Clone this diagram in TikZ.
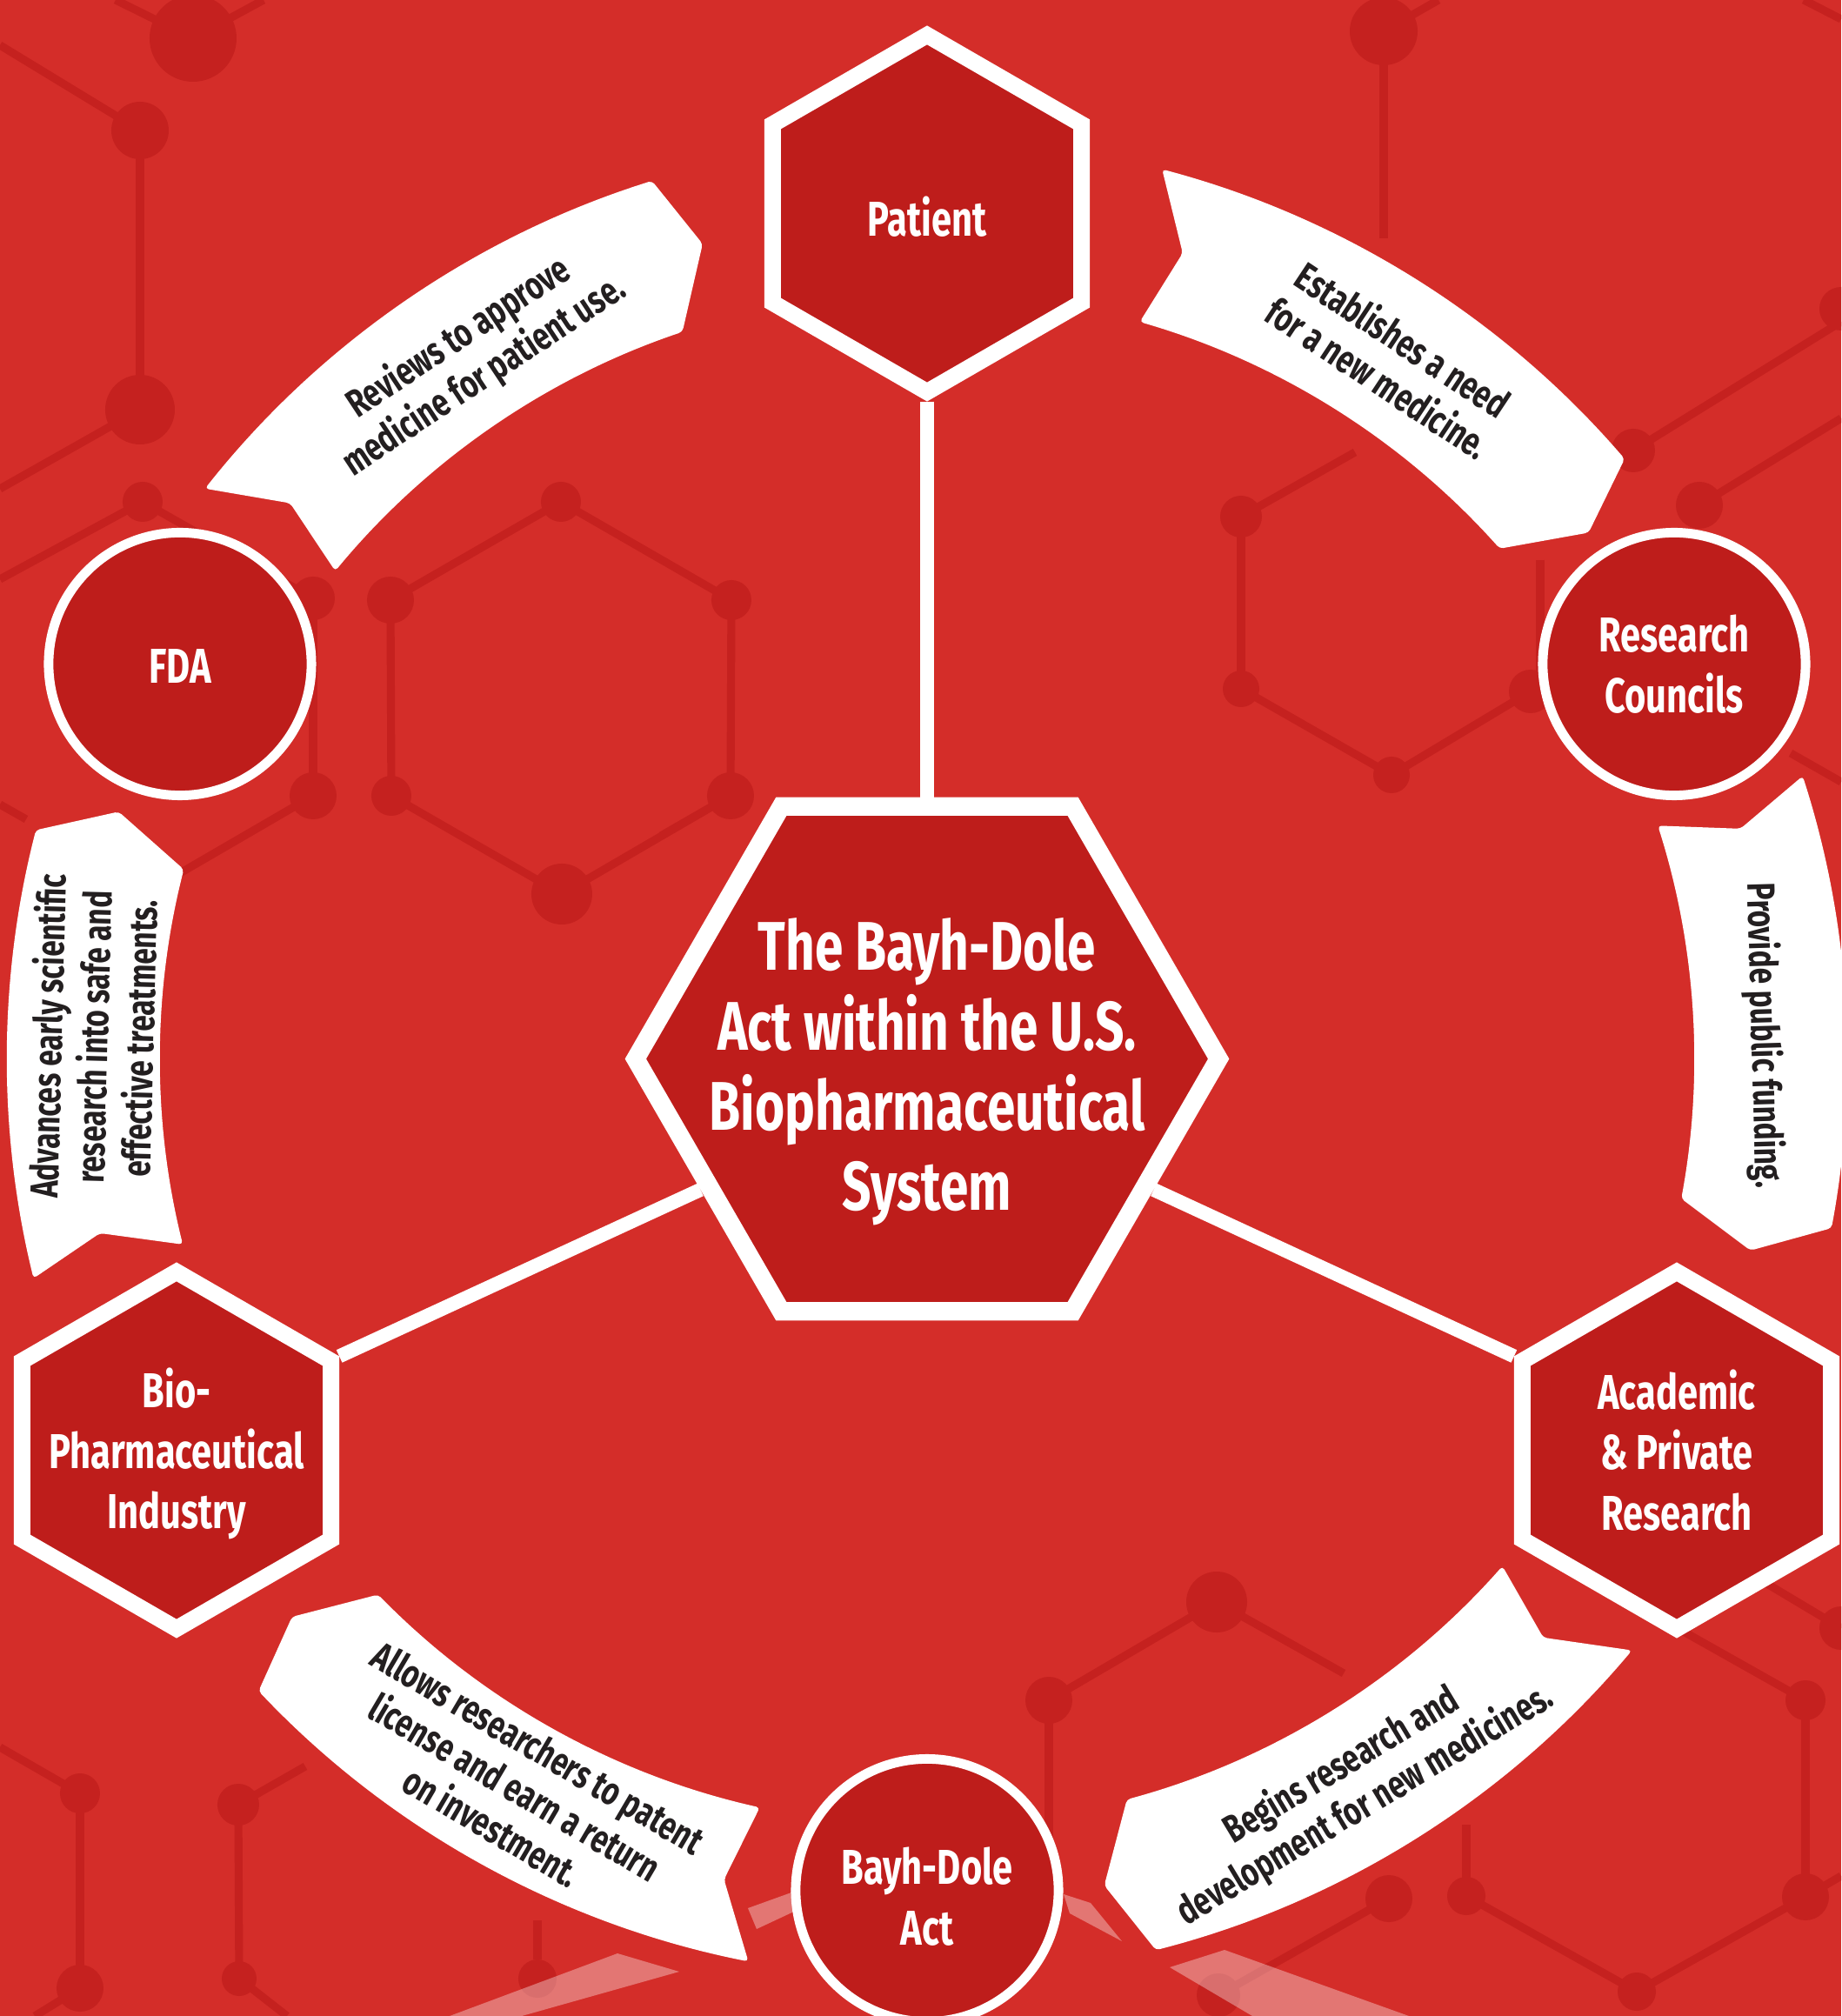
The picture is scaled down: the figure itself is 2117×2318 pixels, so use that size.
\documentclass[tikz,border=0pt]{standalone}
\usepackage{fontspec}
\setmainfont{Fira Sans}[FakeStretch=0.74]
\usetikzlibrary{shapes.geometric}

\definecolor{bgred}{RGB}{212,45,41}
\definecolor{molred}{RGB}{197,33,31}
\definecolor{hexred}{RGB}{190,29,27}
\definecolor{ink}{RGB}{35,31,32}

\newcommand{\atom}[3]{ \fill[molred] ( #1 , #2 ) circle ( #3 );}
\newcommand{\bond}[4]{ \draw[molred, line width=2.6pt] ( #1 , #2 ) -- ( #3 , #4 );}
\newcommand{\glow}[8]{ \fill[white, opacity=0.35] ( #1 , #2 ) -- ( #3 , #4 ) -- ( #5 , #6 ) -- ( #7 , #8 ) -- cycle;}
\newcommand{\flag}[6]{ \fill[white, rounded corners=1.2pt] (#1:1058) arc[start angle=#1, end angle=#4, radius=1058]
    -- (#5:972) -- (#6:882) arc[start angle=#6, end angle=#3, radius=882] -- (#2:972) -- cycle;}

\begin{document}
\begin{tikzpicture}[x=0.01cm, y=0.01cm,
    hexnode/.style={regular polygon, regular polygon sides=6, shape border rotate=30, draw=white, fill=hexred,
        line width=5.4pt, minimum size=4.1cm, inner sep=0pt},
    hexcore/.style={regular polygon, regular polygon sides=6, draw=white, fill=hexred,
        line width=6pt, minimum size=6.7cm, inner sep=0pt},
    ringnode/.style={circle, draw=white, fill=hexred, line width=3.1pt, minimum size=3.02cm, inner sep=0pt},
    nodetext/.style={text=white, align=center, inner sep=0pt, font=\bfseries\fontsize{16}{19.8}\selectfont},
    coretext/.style={text=white, align=center, inner sep=0pt, font=\bfseries\fontsize{22.5}{26.2}\selectfont},
    flagtext/.style={text=ink, align=center, inner sep=0pt, font=\bfseries\fontsize{12.8}{15}\selectfont},
    link/.style={white, line width=4.55pt}]

        % sheet
        \useasboundingbox (-1066,-1100.5) rectangle (1051,1217.5);
        \clip (-1066,-1100.5) rectangle (1051,1217.5);
        \fill[bgred] (-1066,-1100.5) rectangle (1051,1217.5);

        % molecules in the back (pixels of the sheet)
        \begin{scope}[shift={(-1066,1217.5)}, yscale=-1]
        % upper left
        \bond{222}{44}{133}{0}
        \bond{222}{44}{303}{0}
        \bond{0}{52}{161}{150}
        \bond{161}{150}{161}{471}
        \bond{161}{471}{0}{562}
        \bond{164}{577}{0}{666}
        \bond{164}{577}{360}{688}
        \bond{360}{688}{360}{915}
        \bond{360}{915}{200}{1008}
        \bond{0}{925}{30}{942}
        \atom{222}{44}{50}
        \atom{161}{150}{33}
        \atom{161}{471}{40}
        \atom{164}{577}{23}
        \atom{360}{688}{25}
        \atom{360}{915}{27}
        % ring left
        \bond{645}{577}{449}{690}
        \bond{645}{577}{841}{690}
        \bond{449}{690}{450}{915}
        \bond{841}{690}{840}{915}
        \bond{450}{915}{646}{1028}
        \bond{840}{915}{646}{1028}
        \bond{840}{915}{760}{961}
        \atom{645}{577}{23}
        \atom{449}{690}{27}
        \atom{841}{690}{23}
        \atom{450}{915}{23}
        \atom{840}{915}{27}
        \atom{646}{1028}{35}
        % upper right
        \bond{1591}{36}{1654}{0}
        \bond{1591}{36}{1591}{274}
        \bond{2074}{0}{2117}{22}
        \bond{2117}{370}{1878}{518}
        \bond{2117}{481}{1954}{581}
        \bond{2059}{866}{2117}{899}
        \atom{1591}{36}{39}
        \atom{1878}{518}{25}
        \atom{2117}{355}{25}
        \atom{1954}{581}{27}
        % ring right
        \bond{1427}{594}{1558}{520}
        \bond{1427}{594}{1427}{792}
        \bond{1427}{792}{1600}{891}
        \bond{1600}{891}{1760}{795}
        \bond{1771}{644}{1771}{784}
        \atom{1427}{594}{24}
        \atom{1427}{792}{21}
        \atom{1600}{891}{21}
        \atom{1760}{795}{25}
        % lower left
        \bond{0}{2009}{92}{2062}
        \bond{92}{2062}{92}{2286}
        \bond{92}{2286}{40}{2318}
        \bond{274}{2075}{351}{2031}
        \bond{274}{2075}{275}{2275}
        \bond{275}{2275}{330}{2318}
        \bond{618}{2208}{618}{2253}
        \atom{92}{2062}{23}
        \atom{92}{2286}{27}
        \atom{274}{2075}{24}
        \atom{275}{2275}{20}
        \atom{618}{2275}{22}
        % lower right
        \bond{1399}{1842}{1545}{1924}
        \bond{1399}{1842}{1206}{1955}
        \bond{1206}{1955}{1206}{2150}
        \bond{1597}{2183}{1401}{2294}
        \bond{1686}{2098}{1686}{2180}
        \bond{1686}{2180}{1882}{2290}
        \bond{1882}{2290}{2076}{2181}
        \bond{2076}{2181}{2117}{2157}
        \bond{2076}{2181}{2076}{1955}
        \bond{2076}{1955}{1911}{1862}
        \bond{2020}{1814}{2117}{1872}
        \atom{1399}{1842}{35}
        \atom{1206}{1955}{27}
        \atom{1597}{2183}{27}
        \atom{1401}{2294}{25}
        \atom{1686}{2180}{22}
        \atom{1882}{2290}{22}
        \atom{2076}{2181}{27}
        \atom{2076}{1955}{23}
        \atom{2117}{1872}{25}
        % pale bands round the bottom circle
        \glow{517}{2318}{710}{2246}{781}{2267}{600}{2318}
        \glow{860}{2194}{910}{2176}{917}{2196}{870}{2218}
        \glow{1223}{2178}{1254}{2188}{1290}{2232}{1230}{2200}
        \glow{1345}{2262}{1408}{2242}{1620}{2318}{1440}{2318}
        \end{scope}

        % flags of the cycle (tail outer, notch, tail inner, head outer, tip, head inner)
        \flag{141.7}{138.9}{140.5}{107.4}{105.4}{108.6}
        \flag{75.2}{72.4}{73.9}{40.7}{38.5}{41.7}
        \flag{17.9}{15.8}{17.7}{-10.6}{-13.1}{-10.5}
        \flag{-40.0}{-43.2}{-41.4}{-75.6}{-77.9}{-74.9}
        \flag{258.8}{256.1}{257.4}{223.4}{221.3}{224.3}
        \flag{193.8}{191.9}{194.0}{165.6}{163.0}{165.7}

        % nodes
        \node[hexcore] (core) at (0,0) {};
        \node[hexnode] (patient) at (0,972) {};
        \node[hexnode] (acad) at (862,-450) {};
        \node[hexnode] (bio) at (-863,-450) {};
        \node[ringnode] (fda) at (-859,454) {};
        \node[ringnode] (rc) at (859,454) {};
        \node[ringnode] (bd) at (0,-956) {};

        % links to the core
        \draw[link] (patient.-90) -- (core.90);
        \draw[link] (bio.30) -- (core.210);
        \draw[link] (acad.150) -- (core.330);

        % texts
        \node[coretext] (coretxt) at ([yshift=-0.15cm]core.center) {The Bayh-Dole\\Act within the U.S.\\Biopharmaceutical\\System};
        \node[nodetext] (patienttxt) at ([yshift=-0.04cm]patient.center) {Patient};
        \node[nodetext] (acadtxt) at (acad) {Academic\\\& Private\\Research};
        \node[nodetext] (biotxt) at ([yshift=-0.04cm]bio.center) {Bio-\\Pharmaceutical\\Industry};
        \node[nodetext] (fdatxt) at ([yshift=-0.03cm]fda.center) {FDA};
        \node[nodetext] (rctxt) at (rc) {Research\\Councils};
        \node[nodetext] (bdtxt) at ([yshift=-0.07cm]bd.center) {Bayh-Dole\\Act};

        \node[flagtext, rotate=33.5] (fdapat) at (123:962) {Reviews to approve\\medicine for patient use.};
        \node[flagtext, rotate=-33.5] (patrc) at (56.5:966) {Establishes a need\\for a new medicine.};
        \node[flagtext, rotate=-88.4] (rcacad) at (1.6:962) {Provide public funding.};
        \node[flagtext, rotate=31] (acadbd) at (-59.6:969) {Begins research and\\development for new medicines.};
        \node[flagtext, rotate=-30.5] (bdbio) at (240.5:962) {Allows researchers to patent\\license and earn a return\\on investment.};
        \node[flagtext, rotate=88.5] (biofda) at (178.5:960) {Advances early scientific\\research into safe and\\effective treatments.};
    \end{tikzpicture}
\end{document}
